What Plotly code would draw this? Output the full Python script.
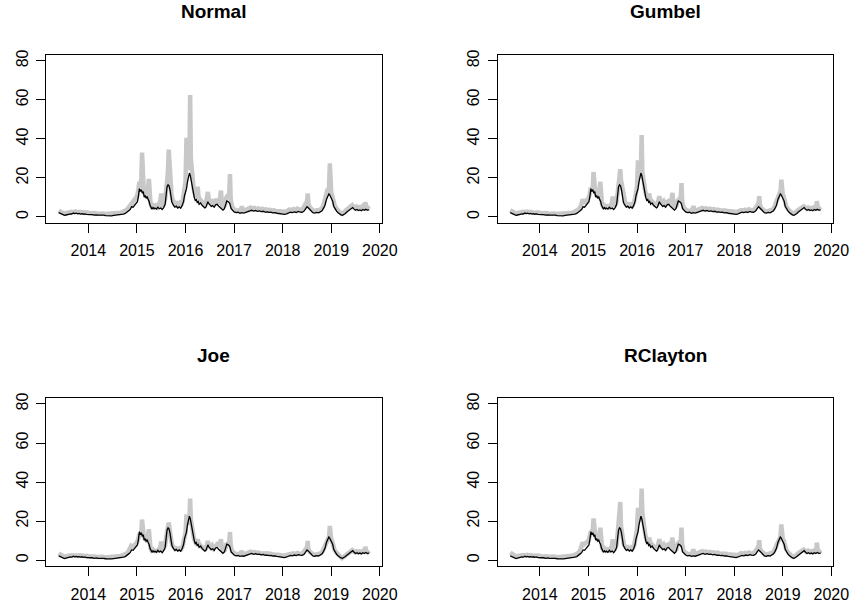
import plotly.graph_objects as go

# ---------------- data ----------------
# common time grid (decimal years) for the model (grey) series
t_grey = [
    2013.39, 2013.42, 2013.46, 2013.50, 2013.54, 2013.58, 2013.62, 2013.66, 2013.70, 2013.74,
    2013.78, 2013.82, 2013.86, 2013.90, 2013.94, 2013.98, 2014.02, 2014.06, 2014.10, 2014.14,
    2014.18, 2014.22, 2014.26, 2014.30, 2014.34, 2014.38, 2014.42, 2014.46, 2014.50, 2014.54,
    2014.58, 2014.62, 2014.66, 2014.70, 2014.74, 2014.78, 2014.82, 2014.85, 2014.88, 2014.91,
    2014.94, 2014.97, 2015.00, 2015.03, 2015.05, 2015.07, 2015.09, 2015.105, 2015.12, 2015.14,
    2015.16, 2015.18, 2015.20, 2015.22, 2015.245, 2015.26, 2015.28, 2015.30, 2015.33, 2015.36,
    2015.39, 2015.42, 2015.45, 2015.48, 2015.50, 2015.52, 2015.55, 2015.58, 2015.61, 2015.635,
    2015.655, 2015.67, 2015.69, 2015.71, 2015.73, 2015.76, 2015.79, 2015.82, 2015.85, 2015.88,
    2015.91, 2015.94, 2015.97, 2016.00, 2016.02, 2016.04, 2016.06, 2016.08, 2016.095, 2016.11,
    2016.13, 2016.15, 2016.17, 2016.19, 2016.21, 2016.23, 2016.25, 2016.27, 2016.30, 2016.33,
    2016.36, 2016.39, 2016.42, 2016.44, 2016.46, 2016.48, 2016.50, 2016.52, 2016.55, 2016.58,
    2016.61, 2016.64, 2016.67, 2016.70, 2016.73, 2016.75, 2016.78, 2016.81, 2016.84, 2016.87,
    2016.90, 2016.915, 2016.93, 2016.96, 2016.99, 2017.03, 2017.07, 2017.11, 2017.145, 2017.16,
    2017.18, 2017.22, 2017.26, 2017.30, 2017.34, 2017.38, 2017.42, 2017.46, 2017.50, 2017.54,
    2017.58, 2017.62, 2017.66, 2017.70, 2017.74, 2017.78, 2017.82, 2017.86, 2017.90, 2017.94,
    2017.98, 2018.02, 2018.06, 2018.10, 2018.14, 2018.18, 2018.22, 2018.26, 2018.30, 2018.34,
    2018.38, 2018.42, 2018.45, 2018.48, 2018.50, 2018.515, 2018.53, 2018.56, 2018.59, 2018.63,
    2018.67, 2018.71, 2018.75, 2018.79, 2018.82, 2018.85, 2018.88, 2018.91, 2018.94, 2018.955,
    2018.97, 2018.985, 2019.00, 2019.02, 2019.04, 2019.07, 2019.10, 2019.13, 2019.16, 2019.19,
    2019.22, 2019.25, 2019.28, 2019.31, 2019.34, 2019.37, 2019.40, 2019.43, 2019.46, 2019.49,
    2019.52, 2019.55, 2019.58, 2019.61, 2019.64, 2019.67, 2019.69, 2019.70, 2019.72, 2019.75,
    2019.78,
]

normal = [
    3.2, 2.8, 2.2, 1.8, 2.0, 2.4, 2.2, 2.6, 2.4, 2.8,
    2.4, 2.6, 2.2, 2.5, 2.1, 2.3, 1.9, 2.1, 1.8, 2.0,
    1.7, 1.9, 1.6, 1.8, 1.5, 1.6, 1.4, 1.6, 1.4, 1.7,
    1.8, 2.0, 2.2, 2.5, 2.8, 3.5, 4.5, 5.5, 6.5, 7.0,
    8.5, 9.0, 10.5, 14.0, 18.0, 15.0, 20.0, 33.0, 18.0, 14.0,
    12.0, 11.5, 13.0, 12.5, 19.5, 12.0, 7.0, 5.5, 6.0, 5.2,
    5.8, 5.0, 6.5, 8.0, 12.0, 6.0, 6.5, 9.0, 16.0, 22.0,
    34.5, 24.0, 18.0, 12.0, 9.0, 7.5, 6.5, 7.0, 6.0, 7.0,
    6.0, 8.0, 12.0, 18.0, 40.5, 28.0, 24.0, 30.0, 62.5, 30.0,
    22.0, 18.0, 14.0, 12.0, 10.0, 12.0, 15.5, 10.0, 9.0, 8.0,
    7.0, 6.0, 7.0, 11.0, 12.8, 9.0, 8.0, 7.5, 8.0, 6.5,
    8.0, 9.0, 7.0, 8.0, 13.5, 6.0, 5.0, 6.0, 10.0, 11.0,
    12.0, 22.0, 9.0, 5.0, 4.0, 3.4, 3.0, 3.3, 4.0, 5.5,
    3.4, 3.3, 3.8, 4.2, 4.8, 4.3, 4.6, 4.0, 4.4, 3.9,
    4.2, 3.7, 3.9, 3.4, 3.6, 3.2, 3.4, 3.0, 2.9, 2.6,
    2.4, 2.3, 2.7, 3.2, 3.8, 3.4, 4.0, 3.5, 4.3, 3.8,
    3.6, 4.5, 5.5, 6.5, 8.0, 12.0, 6.5, 5.0, 3.8, 3.2,
    3.0, 3.5, 3.2, 4.0, 5.0, 7.0, 10.0, 13.0, 12.5, 16.0,
    27.5, 14.0, 12.0, 11.0, 8.0, 6.0, 4.5, 3.5, 2.5, 2.0,
    1.6, 2.0, 2.8, 3.6, 4.2, 5.0, 5.5, 6.0, 5.0, 4.5,
    5.2, 4.4, 5.0, 4.6, 5.5, 5.0, 6.0, 7.5, 5.5, 5.0,
    4.0,
]

gumbel = [
    3.4, 3.0, 2.4, 1.9, 2.0, 2.4, 2.2, 2.6, 2.4, 2.7,
    2.4, 2.6, 2.2, 2.4, 2.1, 2.3, 1.9, 2.1, 1.8, 2.0,
    1.7, 1.9, 1.6, 1.8, 1.5, 1.6, 1.4, 1.6, 1.4, 1.7,
    1.8, 2.0, 2.2, 2.5, 2.8, 3.5, 4.5, 6.0, 9.0, 7.0,
    8.0, 8.5, 9.5, 12.0, 15.0, 14.0, 16.0, 23.0, 15.0, 13.0,
    11.5, 11.0, 12.0, 12.0, 18.0, 11.0, 6.5, 5.5, 6.0, 5.0,
    5.5, 5.0, 6.0, 7.0, 10.5, 6.0, 6.0, 8.0, 14.0, 19.0,
    24.5, 19.0, 16.0, 11.0, 8.0, 7.0, 6.0, 6.5, 5.8, 6.5,
    6.0, 7.5, 11.0, 16.0, 29.0, 22.0, 20.0, 24.0, 42.0, 23.0,
    18.0, 15.0, 13.0, 11.0, 10.0, 10.5, 12.0, 9.0, 8.5, 7.5,
    6.5, 6.0, 6.5, 9.0, 10.6, 8.5, 7.5, 7.0, 8.0, 6.5,
    7.5, 8.0, 7.0, 7.5, 12.3, 5.6, 5.0, 5.5, 8.5, 9.0,
    10.0, 17.4, 8.0, 4.7, 3.8, 3.3, 3.0, 3.2, 4.0, 5.6,
    3.4, 3.3, 3.8, 4.2, 4.6, 4.2, 4.4, 3.9, 4.2, 3.8,
    4.0, 3.6, 3.8, 3.4, 3.5, 3.2, 3.3, 3.0, 2.9, 2.6,
    2.4, 2.3, 2.6, 3.0, 3.5, 3.2, 3.7, 3.3, 3.9, 3.5,
    3.4, 4.0, 5.0, 6.0, 7.0, 10.6, 6.0, 4.5, 3.6, 3.1,
    2.9, 3.3, 3.1, 3.8, 4.7, 6.5, 9.0, 11.0, 11.5, 13.5,
    19.1, 12.5, 11.5, 10.5, 7.5, 5.5, 4.3, 3.3, 2.4, 1.9,
    1.6, 1.9, 2.6, 3.4, 4.0, 4.6, 5.1, 5.4, 4.8, 4.2,
    4.8, 4.2, 4.6, 4.3, 4.9, 4.6, 5.5, 8.1, 5.0, 4.6,
    3.6,
]

joe = [
    3.4, 3.0, 2.4, 1.9, 2.0, 2.3, 2.1, 2.5, 2.3, 2.6,
    2.3, 2.5, 2.1, 2.3, 2.0, 2.2, 1.8, 2.0, 1.7, 1.9,
    1.6, 1.8, 1.5, 1.7, 1.4, 1.5, 1.3, 1.5, 1.3, 1.6,
    1.7, 1.9, 2.1, 2.4, 2.7, 3.3, 4.2, 5.6, 7.3, 6.8,
    7.5, 8.0, 9.0, 11.0, 13.5, 12.5, 14.5, 20.8, 12.4, 12.0,
    11.0, 10.5, 11.5, 11.0, 15.8, 10.0, 6.0, 5.0, 5.5, 4.7,
    4.8, 4.7, 5.5, 6.5, 9.5, 5.8, 5.8, 7.5, 13.0, 18.3,
    19.2, 16.5, 11.5, 9.5, 7.5, 6.5, 5.6, 6.0, 5.5, 6.0,
    5.6, 7.0, 10.0, 14.0, 23.4, 19.0, 18.0, 20.0, 31.5, 20.8,
    16.5, 14.0, 11.5, 10.0, 9.0, 9.5, 10.5, 8.5, 8.0, 7.0,
    6.0, 5.6, 6.0, 8.5, 9.8, 8.0, 7.0, 6.5, 7.5, 6.0,
    7.0, 7.5, 9.0, 7.0, 10.7, 5.5, 4.8, 5.2, 8.0, 8.5,
    9.0, 14.4, 7.5, 4.5, 3.6, 3.2, 2.9, 3.1, 3.8, 4.7,
    3.2, 3.1, 3.5, 3.9, 4.3, 3.9, 4.1, 3.7, 3.9, 3.5,
    3.7, 3.4, 3.5, 3.1, 3.3, 3.0, 3.1, 2.8, 2.7, 2.5,
    2.3, 2.2, 2.5, 2.8, 3.3, 3.0, 3.5, 3.1, 3.7, 3.3,
    3.2, 3.8, 4.6, 5.5, 6.5, 9.8, 5.5, 4.2, 3.4, 2.9,
    2.8, 3.1, 2.9, 3.5, 4.4, 6.0, 8.5, 9.8, 10.5, 12.0,
    17.5, 11.0, 10.5, 9.5, 7.0, 5.0, 4.0, 3.0, 2.2, 1.7,
    1.0, 1.6, 2.4, 3.2, 3.8, 4.3, 4.8, 5.1, 4.5, 4.0,
    4.5, 4.0, 4.4, 4.1, 4.6, 4.4, 5.0, 6.8, 4.8, 4.3,
    3.2,
]

rclayton = [
    3.9, 3.2, 2.5, 2.0, 2.1, 2.4, 2.2, 2.6, 2.4, 2.7,
    2.4, 2.6, 2.2, 2.4, 2.1, 2.3, 1.9, 2.1, 1.8, 2.0,
    1.7, 1.9, 1.6, 1.8, 1.5, 1.6, 1.4, 1.6, 1.4, 1.7,
    1.8, 2.0, 2.2, 2.5, 2.8, 3.5, 4.5, 7.0, 9.0, 8.0,
    8.5, 9.0, 10.0, 12.5, 15.0, 14.0, 16.0, 21.4, 14.0, 12.5,
    11.5, 11.0, 12.0, 12.0, 16.6, 11.0, 6.5, 5.5, 6.0, 5.0,
    5.5, 5.0, 6.0, 7.0, 10.7, 6.0, 6.0, 8.0, 16.0, 22.0,
    29.8, 17.5, 14.0, 10.5, 8.0, 7.0, 6.0, 6.5, 5.8, 6.5,
    6.0, 7.5, 11.0, 16.0, 26.8, 21.0, 20.0, 24.2, 36.6, 24.2,
    19.0, 15.8, 13.0, 11.0, 9.0, 10.0, 11.5, 9.0, 8.5, 7.5,
    6.5, 6.0, 6.5, 9.0, 10.7, 8.5, 7.5, 7.0, 8.0, 6.5,
    7.5, 8.0, 7.0, 7.5, 11.5, 5.5, 5.0, 5.5, 8.5, 9.0,
    10.0, 16.6, 8.0, 4.7, 3.8, 3.3, 3.0, 3.2, 4.0, 5.6,
    3.4, 3.3, 3.8, 4.2, 4.6, 4.2, 4.4, 3.9, 4.2, 3.8,
    4.0, 3.6, 3.8, 3.4, 3.5, 3.2, 3.3, 3.0, 2.9, 2.6,
    2.4, 2.3, 2.6, 3.0, 3.5, 3.2, 3.7, 3.3, 3.9, 3.5,
    3.4, 4.0, 5.0, 6.0, 7.0, 10.2, 6.0, 4.5, 3.6, 3.1,
    2.9, 3.3, 3.1, 3.8, 4.7, 6.5, 9.0, 9.8, 11.0, 13.0,
    18.3, 12.0, 11.0, 10.0, 7.5, 5.5, 4.3, 3.3, 2.4, 1.9,
    1.6, 1.9, 2.6, 3.4, 4.0, 4.6, 5.1, 5.4, 4.8, 4.2,
    4.8, 4.2, 4.6, 4.3, 4.9, 4.6, 5.5, 9.0, 5.0, 4.6,
    3.4,
]

# realised series (black), identical in every panel
t_real = [
    2013.39, 2013.42, 2013.45, 2013.48, 2013.51, 2013.54, 2013.57, 2013.60, 2013.63, 2013.66,
    2013.69, 2013.72, 2013.75, 2013.78, 2013.81, 2013.84, 2013.87, 2013.90, 2013.93, 2013.96,
    2014.00, 2014.04, 2014.08, 2014.12, 2014.16, 2014.20, 2014.24, 2014.28, 2014.32, 2014.36,
    2014.40, 2014.44, 2014.48, 2014.52, 2014.56, 2014.60, 2014.64, 2014.68, 2014.72, 2014.76,
    2014.80, 2014.83, 2014.86, 2014.89, 2014.92, 2014.95, 2014.98, 2015.01, 2015.03, 2015.05,
    2015.07, 2015.09, 2015.11, 2015.13, 2015.15, 2015.17, 2015.19, 2015.21, 2015.23, 2015.25,
    2015.27, 2015.29, 2015.31, 2015.33, 2015.35, 2015.37, 2015.40, 2015.43, 2015.46, 2015.49,
    2015.52, 2015.55, 2015.58, 2015.60, 2015.62, 2015.64, 2015.66, 2015.68, 2015.70, 2015.72,
    2015.75, 2015.78, 2015.81, 2015.84, 2015.87, 2015.90, 2015.93, 2015.96, 2015.98, 2016.00,
    2016.02, 2016.04, 2016.06, 2016.08, 2016.10, 2016.12, 2016.14, 2016.16, 2016.18, 2016.20,
    2016.22, 2016.24, 2016.26, 2016.28, 2016.31, 2016.34, 2016.37, 2016.40, 2016.42, 2016.44,
    2016.46, 2016.48, 2016.50, 2016.53, 2016.56, 2016.59, 2016.62, 2016.65, 2016.68, 2016.71,
    2016.74, 2016.77, 2016.80, 2016.83, 2016.85, 2016.88, 2016.91, 2016.94, 2016.97, 2017.00,
    2017.04, 2017.08, 2017.12, 2017.16, 2017.20, 2017.24, 2017.28, 2017.32, 2017.36, 2017.40,
    2017.44, 2017.48, 2017.52, 2017.56, 2017.60, 2017.64, 2017.68, 2017.72, 2017.76, 2017.80,
    2017.84, 2017.88, 2017.92, 2017.96, 2018.00, 2018.04, 2018.08, 2018.12, 2018.16, 2018.20,
    2018.24, 2018.28, 2018.32, 2018.36, 2018.40, 2018.44, 2018.47, 2018.50, 2018.53, 2018.56,
    2018.59, 2018.62, 2018.66, 2018.70, 2018.74, 2018.78, 2018.81, 2018.84, 2018.87, 2018.90,
    2018.93, 2018.95, 2018.97, 2018.99, 2019.01, 2019.03, 2019.05, 2019.08, 2019.11, 2019.14,
    2019.17, 2019.20, 2019.23, 2019.26, 2019.29, 2019.32, 2019.35, 2019.38, 2019.41, 2019.44,
    2019.47, 2019.50, 2019.53, 2019.56, 2019.59, 2019.62, 2019.65, 2019.68, 2019.71, 2019.74,
    2019.78,
]

realized = [
    2.2, 1.9, 1.5, 1.1, 0.8, 1.0, 1.3, 1.2, 1.6, 1.5,
    2.0, 1.7, 1.9, 1.6, 1.8, 1.5, 1.7, 1.4, 1.6, 1.3,
    1.3, 1.0, 1.2, 0.9, 1.1, 0.9, 1.0, 0.8, 0.9, 0.7,
    0.6, 0.8, 0.6, 0.8, 0.9, 1.1, 1.0, 1.3, 1.5, 1.8,
    2.4, 3.2, 3.8, 5.2, 5.0, 6.0, 7.2, 7.8, 10.5, 14.5,
    13.0, 14.0, 12.2, 13.0, 10.2, 11.0, 9.5, 10.5, 9.0, 8.0,
    6.0, 4.5, 4.0, 4.8, 4.2, 4.6, 4.0, 5.0, 4.2, 4.6,
    3.8, 4.8, 6.5, 11.0, 15.5, 16.5, 16.0, 14.0, 10.0, 7.5,
    6.0, 5.0, 5.5, 4.6, 5.2, 4.5, 5.8, 8.0, 11.0, 12.5,
    14.5, 18.0, 20.0, 22.5, 21.0, 18.0, 14.0, 12.0, 10.0, 8.5,
    9.0, 7.5, 8.0, 6.5, 7.2, 6.0, 5.5, 4.6, 5.0, 7.2,
    7.8, 6.8, 6.0, 5.4, 5.8, 5.0, 6.2, 6.5, 5.6, 5.0,
    4.0, 3.5, 4.2, 7.5, 8.2, 7.8, 7.0, 4.2, 3.2, 2.6,
    2.2, 2.4, 1.9, 2.2, 2.0, 2.4, 2.8, 3.2, 3.4, 3.0,
    3.3, 2.9, 3.1, 2.7, 2.9, 2.5, 2.6, 2.3, 2.4, 2.1,
    2.2, 1.9, 1.8, 1.6, 1.4, 1.3, 1.6, 2.0, 2.4, 2.2,
    2.6, 2.3, 2.8, 2.5, 2.4, 3.0, 4.2, 5.2, 4.6, 3.8,
    2.6, 2.2, 2.0, 2.3, 2.1, 2.6, 3.2, 4.5, 6.0, 9.0,
    10.5, 11.8, 11.2, 10.0, 9.5, 8.0, 5.5, 4.0, 3.0, 2.2,
    1.6, 1.1, 0.9, 1.2, 1.8, 2.5, 3.0, 3.8, 4.2, 4.8,
    4.0, 3.4, 3.8, 3.3, 3.6, 3.2, 3.8, 3.4, 3.9, 3.5,
    3.6,
]

panel_titles = ["Normal", "Gumbel", "Joe", "RClayton"]
x_ticks = [2014, 2015, 2016, 2017, 2018, 2019, 2020]
y_ticks = [0, 20, 40, 60, 80]

# ---------------- layout ----------------
W, H = 866, 609
FONT = "Liberation Sans, Arial, Helvetica, sans-serif"
boxes = [(47, 389, 50, 220), (507, 849, 50, 220), (47, 389, 396, 566), (507, 849, 396, 566)]
models = [normal, gumbel, joe, rclayton]

fig = go.Figure()
layout_axes = {}
annotations = []
for i, (model, title, (x0, x1, y0, y1)) in enumerate(zip(models, panel_titles, boxes)):
    n = "" if i == 0 else str(i + 1)
    xa, ya = "x" + n, "y" + n
    fig.add_trace(go.Scatter(x=t_grey, y=model, mode="lines", xaxis=xa, yaxis=ya,
                             line=dict(color="#C8C8C8", width=4.5), showlegend=False,
                             hoverinfo="skip"))
    fig.add_trace(go.Scatter(x=t_real, y=realized, mode="lines", xaxis=xa, yaxis=ya,
                             line=dict(color="black", width=1.3), showlegend=False))
    common = dict(showline=True, linecolor="black", linewidth=1, mirror=True,
                  ticks="outside", ticklen=9, tickwidth=1, tickcolor="black",
                  showgrid=False, zeroline=False,
                  tickfont=dict(family=FONT, size=16, color="black"))
    layout_axes["xaxis" + n] = dict(common, domain=[x0 / W, x1 / W], anchor=ya,
                                    range=[2013.131, 2020.04], tickmode="array",
                                    tickvals=x_ticks, ticktext=[str(v) for v in x_ticks],
                                    ticklabelstandoff=4)
    layout_axes["yaxis" + n] = dict(common, domain=[1 - y1 / H, 1 - y0 / H], anchor=xa,
                                    range=[-3.2, 83.2], tickmode="array",
                                    tickvals=y_ticks, ticktext=[str(v) for v in y_ticks],
                                    tickangle=-90, ticklabelstandoff=2)
    annotations.append(dict(text="<b>" + title + "</b>", xref="paper", yref="paper",
                            x=(x0 + x1) / 2 / W, y=1 - (y0 - 43) / H,
                            xanchor="center", yanchor="middle", showarrow=False,
                            font=dict(family=FONT, size=19, color="black")))

fig.update_layout(width=W, height=H, margin=dict(l=0, r=0, t=0, b=0),
                  paper_bgcolor="white", plot_bgcolor="white",
                  annotations=annotations, **layout_axes)

fig.write_html("out.html", config={"displayModeBar": False},
               post_script="document.body.style.margin='0';"
                           "document.body.style.padding='0';"
                           "document.body.style.overflow='hidden';")
